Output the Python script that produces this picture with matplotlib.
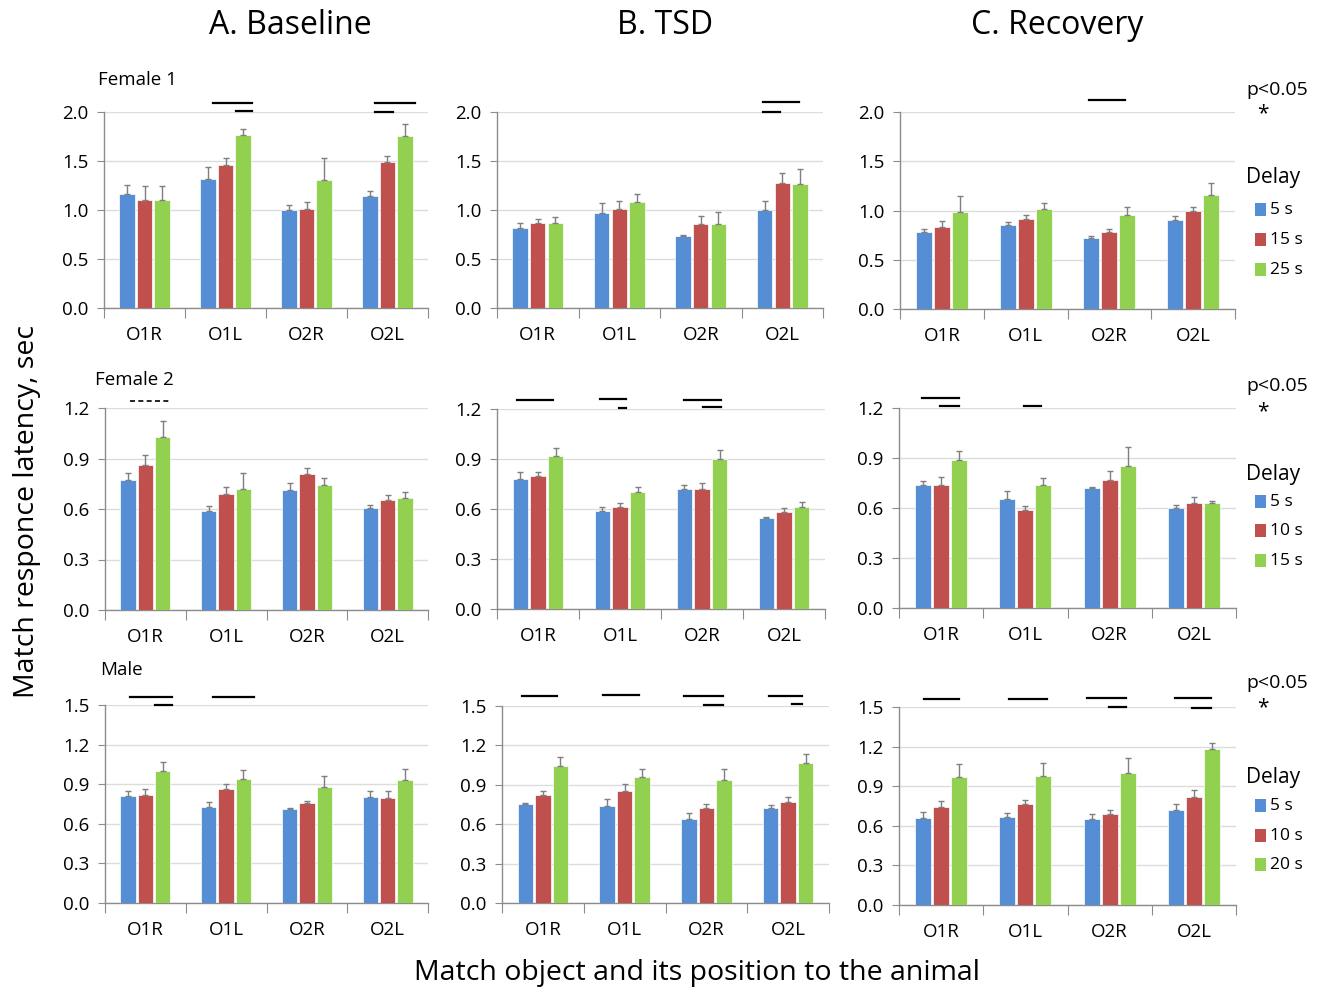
import matplotlib
matplotlib.use("Agg")
import matplotlib.pyplot as plt
from matplotlib.patches import Rectangle

plt.rcParams['font.family'] = ['Open Sans', 'DejaVu Sans']

categories = ['O1R', 'O1L', 'O2R', 'O2L']
col_titles = ['A. Baseline', 'B. TSD', 'C. Recovery']
row_names = ['Female 1', 'Female 2', 'Male']
delays = [['5 s', '15 s', '25 s'], ['5 s', '10 s', '15 s'], ['5 s', '10 s', '20 s']]
y_ticks = [[0, 0.5, 1.0, 1.5, 2.0], [0, 0.3, 0.6, 0.9, 1.2], [0, 0.3, 0.6, 0.9, 1.2, 1.5]]
colors = ['#558ED5', '#C0504D', '#92D050']

# means per delay (rows = delays, columns = categories)
f1_base = [[1.16, 1.32, 1.00, 1.14], [1.10, 1.46, 1.01, 1.49], [1.10, 1.77, 1.31, 1.76]]
f1_base_err = [[0.10, 0.12, 0.05, 0.05], [0.14, 0.07, 0.07, 0.06], [0.14, 0.06, 0.22, 0.12]]
f1_tsd = [[0.82, 0.97, 0.73, 1.00], [0.87, 1.01, 0.86, 1.28], [0.87, 1.08, 0.86, 1.27]]
f1_tsd_err = [[0.05, 0.10, 0.02, 0.09], [0.04, 0.08, 0.08, 0.10], [0.06, 0.08, 0.12, 0.15]]
f1_rec = [[0.78, 0.85, 0.72, 0.90], [0.83, 0.91, 0.78, 0.99], [0.98, 1.02, 0.95, 1.16]]
f1_rec_err = [[0.03, 0.03, 0.025, 0.04], [0.065, 0.04, 0.03, 0.05], [0.17, 0.055, 0.09, 0.12]]

f2_base = [[0.77, 0.59, 0.71, 0.605], [0.86, 0.69, 0.805, 0.656], [1.03, 0.72, 0.745, 0.664]]
f2_base_err = [[0.045, 0.025, 0.045, 0.02], [0.06, 0.04, 0.04, 0.03], [0.09, 0.095, 0.04, 0.035]]
f2_tsd = [[0.78, 0.59, 0.72, 0.545], [0.80, 0.615, 0.72, 0.583], [0.92, 0.70, 0.90, 0.61]]
f2_tsd_err = [[0.04, 0.025, 0.025, 0.01], [0.02, 0.02, 0.035, 0.025], [0.045, 0.03, 0.055, 0.03]]
f2_rec = [[0.74, 0.655, 0.72, 0.60], [0.74, 0.59, 0.77, 0.63], [0.89, 0.74, 0.855, 0.63]]
f2_rec_err = [[0.02, 0.045, 0.005, 0.02], [0.045, 0.025, 0.05, 0.035], [0.05, 0.04, 0.11, 0.012]]

m_base = [[0.81, 0.73, 0.71, 0.80], [0.82, 0.86, 0.755, 0.795], [1.00, 0.94, 0.88, 0.93]]
m_base_err = [[0.035, 0.035, 0.012, 0.045], [0.04, 0.04, 0.02, 0.05], [0.07, 0.07, 0.085, 0.085]]
m_tsd = [[0.755, 0.735, 0.64, 0.725], [0.82, 0.855, 0.727, 0.77], [1.045, 0.96, 0.935, 1.065]]
m_tsd_err = [[0.003, 0.06, 0.045, 0.025], [0.035, 0.05, 0.025, 0.04], [0.065, 0.06, 0.085, 0.07]]
m_rec = [[0.66, 0.67, 0.65, 0.72], [0.74, 0.765, 0.69, 0.815], [0.97, 0.975, 1.00, 1.18]]
m_rec_err = [[0.045, 0.03, 0.04, 0.045], [0.05, 0.03, 0.03, 0.055], [0.095, 0.1, 0.115, 0.05]]

# significance bars: (category, rel start, rel end, level)
f1_base_sig = [(1, -0.15, 0.33, 2.09), (1, 0.13, 0.33, 2.01), (3, -0.15, 0.34, 2.09), (3, -0.15, 0.07, 2.0)]
f1_tsd_sig = [(3, -0.24, 0.20, 2.10), (3, -0.24, -0.03, 2.0)]
f1_rec_sig = [(2, -0.24, 0.19, 2.125)]
f2_base_sig = []
f2_base_dash = [(0, -0.19, 0.29, 1.242)]
f2_tsd_sig = [(0, -0.26, 0.18, 1.254), (1, -0.24, 0.07, 1.26), (1, -0.01, 0.07, 1.208),
              (2, -0.22, 0.23, 1.257), (2, 0.01, 0.23, 1.21)]
f2_rec_sig = [(0, -0.23, 0.21, 1.26), (0, -0.01, 0.21, 1.21), (1, -0.02, 0.185, 1.214)]
m_base_sig = [(0, -0.19, 0.33, 1.56), (0, 0.12, 0.33, 1.5), (1, -0.16, 0.345, 1.558)]
m_tsd_sig = [(0, -0.255, 0.173, 1.576), (1, -0.265, 0.176, 1.581), (2, -0.274, 0.203, 1.578),
             (2, -0.03, 0.203, 1.505), (3, -0.234, 0.17, 1.578), (3, 0.047, 0.17, 1.513)]
m_rec_sig = [(0, -0.2, 0.21, 1.558), (1, -0.19, 0.257, 1.563), (2, -0.27, 0.194, 1.568),
             (2, -0.007, 0.194, 1.5), (3, -0.224, 0.203, 1.565), (3, -0.022, 0.203, 1.492)]

panels = [
    [(f1_base, f1_base_err, f1_base_sig), (f1_tsd, f1_tsd_err, f1_tsd_sig), (f1_rec, f1_rec_err, f1_rec_sig)],
    [(f2_base, f2_base_err, f2_base_sig), (f2_tsd, f2_tsd_err, f2_tsd_sig), (f2_rec, f2_rec_err, f2_rec_sig)],
    [(m_base, m_base_err, m_base_sig), (m_tsd, m_tsd_err, m_tsd_sig), (m_rec, m_rec_err, m_rec_sig)],
]

W, H = 1326, 992
fig = plt.figure(figsize=(W / 100, H / 100), dpi=100)

# panel boxes in pixels: left, right, top, bottom
boxes = [
    [(104, 428, 112, 308), (497, 823, 112, 308), (900, 1235, 112, 309)],
    [(105, 428, 408, 610), (497, 825, 409, 609), (899, 1236, 408, 608)],
    [(105, 428, 705, 903), (502, 829, 706, 903), (899, 1236, 707, 905)],
]

def px(x, y):
    return x / W, 1 - y / H

grey = '#8c8c8c'
offs = [-0.215, 0, 0.215]

for r in range(3):
    for c in range(3):
        l, rt, t, b = boxes[r][c]
        ax = fig.add_axes([l / W, 1 - b / H, (rt - l) / W, (b - t) / H])
        means, errs, sig = panels[r][c]
        for k in range(3):
            xs = [i + offs[k] for i in range(4)]
            ax.bar(xs, means[k], width=0.19, color=colors[k], edgecolor='white', linewidth=0.5, zorder=3)
            ax.errorbar(xs, means[k], yerr=[[0] * 4, errs[k]], fmt='none', ecolor='#7f7f7f',
                        elinewidth=1, capsize=2.5, capthick=1, zorder=4)
        for cat, x0, x1, y in sig:
            ax.plot([cat + x0, cat + x1], [y, y], color='black', lw=1.6, clip_on=False, zorder=5)
        if r == 1 and c == 0:
            for cat, x0, x1, y in f2_base_dash:
                ax.plot([cat + x0, cat + x1], [y, y], color='black', lw=1.2, ls=(0, (3, 2)),
                        clip_on=False, zorder=5)
        ax.set_xlim(-0.5, 3.5)
        ax.set_ylim(0, y_ticks[r][-1])
        ax.set_yticks(y_ticks[r])
        ax.set_yticklabels(['%.1f' % v for v in y_ticks[r]], fontsize=13.5)
        ax.set_xticks([-0.5, 0.5, 1.5, 2.5, 3.5])
        ax.set_xticklabels([])
        ax.set_xticks(range(4), minor=True)
        ax.set_xticklabels(categories, minor=True, fontsize=13.5)
        ax.tick_params(axis='x', which='minor', length=0, pad=13)
        ax.tick_params(axis='x', which='major', length=7, color=grey, direction='out')
        ax.tick_params(axis='y', length=5, color=grey, direction='out', pad=6)
        ax.grid(axis='y', color='#dcdcdc', lw=1, zorder=0)
        ax.set_axisbelow(True)
        for s in ['top', 'right']:
            ax.spines[s].set_visible(False)
        for s in ['left', 'bottom']:
            ax.spines[s].set_color(grey)
            ax.spines[s].set_linewidth(1)

# column titles
for c, x in enumerate([290, 665, 1057]):
    fig.text(*px(x, 25), col_titles[c], fontsize=23, ha='center', va='center')

# row names
for name, (x, y) in zip(row_names, [(98, 80), (95, 380), (100, 670)]):
    fig.text(*px(x, y), name, fontsize=13.5, ha='left', va='center')

# right side legends
legend_y = [(90, 114, 178, [210, 240, 270]), (386, 412, 475, [502, 531, 561]), (683, 708, 778, [806, 836, 865])]
for r, (yp, ys, yd, ye) in enumerate(legend_y):
    fig.text(*px(1246, yp), 'p<0.05', fontsize=14, ha='left', va='center')
    fig.text(*px(1263, ys), '*', fontsize=15, ha='center', va='center')
    fig.text(*px(1246, yd), 'Delay', fontsize=15, ha='left', va='center')
    for k in range(3):
        x0, y0 = px(1255, ye[k] + 6)
        fig.patches.append(Rectangle((x0, y0), 11 / W, 13 / H, transform=fig.transFigure,
                                     facecolor=colors[k], edgecolor='none'))
        fig.text(*px(1270, ye[k]), delays[r][k], fontsize=12.5, ha='left', va='center')

fig.text(*px(697, 973), 'Match object and its position to the animal', fontsize=20.5, ha='center', va='center')
fig.text(*px(27, 512), 'Match responce latency, sec', fontsize=20.5, ha='center', va='center', rotation=90)

fig.savefig('out.png', dpi=100)
